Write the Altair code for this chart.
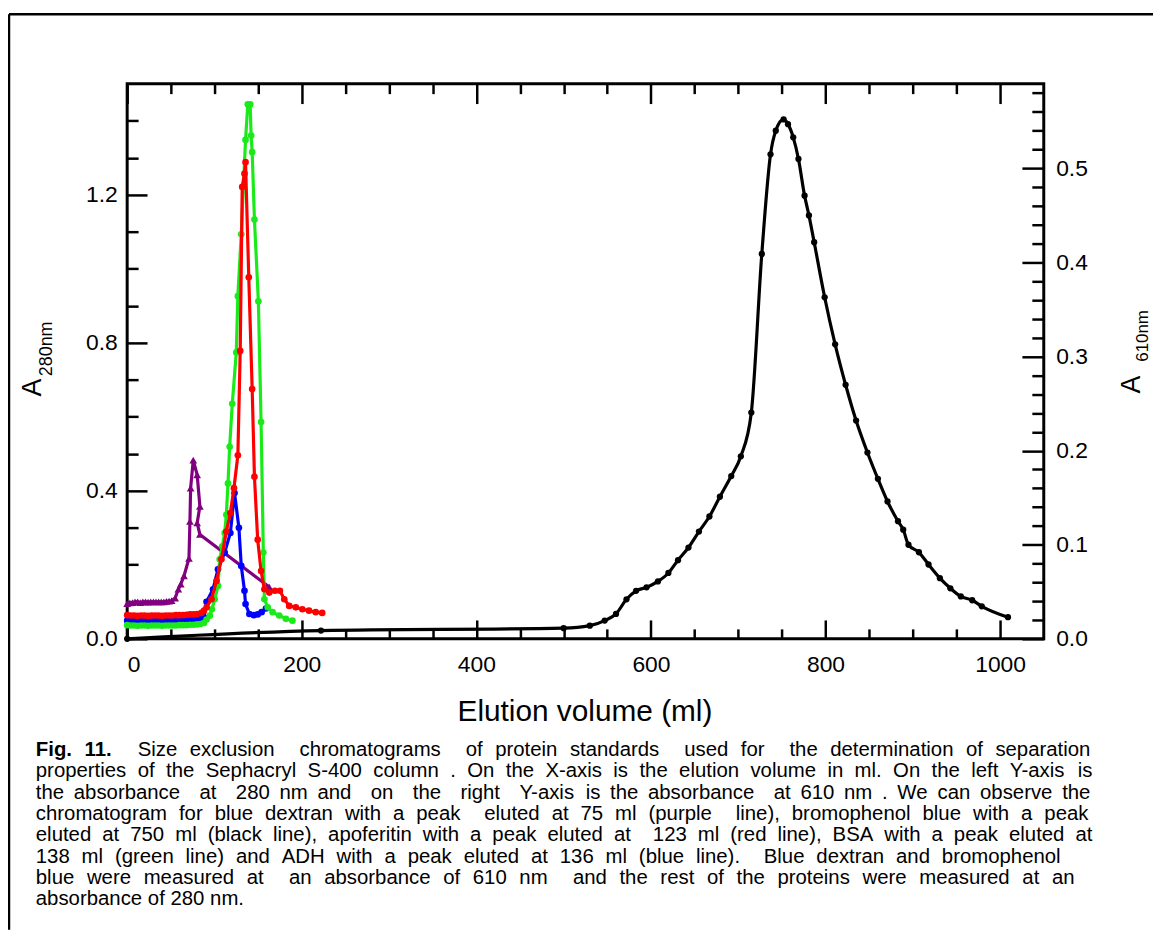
import altair as alt
import pandas as pd

# ---------------- data ----------------
purple_x = [0, 3, 6, 9, 12, 15, 18, 21, 24, 27, 30, 33, 36, 39, 42, 45, 48, 51, 55, 58.6,
            61.4, 65.1, 70.8, 71.9, 72.7, 75.7, 80.2, 83.3, 80.2, 83.3, 162.8]
purple_y = [0.095, 0.097, 0.098, 0.100, 0.100, 0.098, 0.100, 0.100, 0.099, 0.100, 0.100, 0.100,
            0.100, 0.100, 0.100, 0.101, 0.102, 0.103, 0.110, 0.134, 0.148, 0.170, 0.217, 0.317,
            0.407, 0.483, 0.443, 0.358, 0.313, 0.282, 0.140]

blue_x = [0, 4, 8, 12, 16, 20, 24, 28, 32, 36, 40, 44, 48, 52, 56, 60, 64, 68, 72, 76, 80, 84,
          88, 90.9, 98.4, 104, 111.7, 118.2, 123, 128, 130.7, 134.4, 135.6, 140, 145, 149.5, 154, 159]
blue_y = [0.049, 0.048, 0.048, 0.049, 0.048, 0.048, 0.049, 0.048, 0.048, 0.049, 0.048, 0.048,
          0.049, 0.048, 0.049, 0.049, 0.050, 0.050, 0.051, 0.052, 0.053, 0.055,
          0.058, 0.100, 0.134, 0.188, 0.233, 0.286, 0.394, 0.300, 0.197, 0.130, 0.094, 0.067,
          0.064, 0.066, 0.072, 0.082]

green_x = [0, 4, 8, 12, 16, 20, 24, 28, 32, 36, 40, 44, 48, 52, 56, 60, 64, 68, 72, 76, 80, 84,
           88, 91, 94.7, 97, 100.3, 104.1, 106, 109, 111.7, 113.6, 115.5, 117.4, 120.4, 125, 126.8,
           130.7, 135.6, 138.2, 140.9, 142, 143.2, 145.8, 150.3, 153.4, 156, 157.2, 161, 166.6,
           174.2, 181.8, 189.3]
green_y = [0.037, 0.036, 0.036, 0.035, 0.036, 0.036, 0.035, 0.036, 0.036, 0.036, 0.035, 0.036,
           0.036, 0.036, 0.036, 0.037, 0.037, 0.037, 0.038, 0.038, 0.039, 0.040,
           0.043, 0.052, 0.0625, 0.080, 0.107, 0.143, 0.215, 0.250, 0.286, 0.335, 0.420, 0.519,
           0.635, 0.774, 0.926, 1.093, 1.348, 1.444, 1.444, 1.360, 1.315, 1.133, 0.912, 0.586,
           0.233, 0.107, 0.085, 0.072, 0.063, 0.054, 0.049]

red_x = [0, 4, 8, 12, 16, 20, 24, 28, 32, 36, 40, 44, 48, 52, 56, 60, 64, 68, 72, 76, 80,
         85, 88, 91, 96.6, 102.3, 108, 113.6, 118.2, 122.3, 126.8, 129.5, 131.8, 134.4, 135.6,
         139.3, 143.2, 145.8, 149.5, 153.4, 157.2, 162.8, 169.3, 175, 180, 185.6, 193.2, 200.7,
         208.3, 216, 223.4]
red_y = [0.064, 0.063, 0.063, 0.062, 0.063, 0.063, 0.062, 0.063, 0.063, 0.063, 0.062, 0.063,
         0.063, 0.063, 0.064, 0.064, 0.064, 0.065, 0.066, 0.066, 0.067,
         0.070, 0.076, 0.085, 0.107, 0.156, 0.215, 0.290, 0.340, 0.407, 0.496, 0.778, 1.221,
         1.257, 1.288, 0.977, 0.675, 0.438, 0.268, 0.183, 0.134, 0.125, 0.130, 0.130, 0.107,
         0.089, 0.085, 0.080, 0.076, 0.072, 0.070]

black_x = [0, 222, 500, 530, 547, 560, 572, 583, 595, 608, 620, 631, 643, 655, 667, 679, 692,
           703, 715, 727, 737, 743, 752, 757, 763, 769, 776, 781, 787, 799, 811, 823, 835, 848,
           860, 871, 883, 889, 895, 907, 918, 931, 943, 955, 968, 979, 1009]
black_y = [0.0, 0.0088, 0.0113, 0.014, 0.0194, 0.0265, 0.042, 0.051, 0.0547, 0.061, 0.070,
           0.0836, 0.097, 0.114, 0.130, 0.151, 0.173, 0.194, 0.2405, 0.409, 0.515, 0.540, 0.552,
           0.547, 0.533, 0.510, 0.471, 0.450, 0.4215, 0.363, 0.313, 0.270, 0.232, 0.198, 0.170,
           0.146, 0.125, 0.116, 0.100, 0.092, 0.079, 0.0645, 0.0537, 0.045, 0.041, 0.0346, 0.023]

x_major = [0, 200, 400, 600, 800, 1000]
x_minor = [50, 100, 150, 250, 300, 350, 450, 500, 550, 650, 700, 750, 850, 900, 950]
yl_major = [0.0, 0.4, 0.8, 1.2]
yl_minor = [0.1, 0.2, 0.3, 0.5, 0.6, 0.7, 0.9, 1.0, 1.1, 1.3, 1.4]
yr_major = [0.0, 0.1, 0.2, 0.3, 0.4, 0.5]
yr_minor = [0.02, 0.04, 0.06, 0.08, 0.12, 0.14, 0.16, 0.18, 0.22, 0.24, 0.26, 0.28, 0.32,
            0.34, 0.36, 0.38, 0.42, 0.44, 0.46, 0.48, 0.52, 0.54, 0.56, 0.58]

caption = [
    "Fig. 11.  Size exclusion  chromatograms  of protein standards  used for  the determination of separation",
    "properties of the Sephacryl S-400 column . On the X-axis is the elution volume in ml. On the left Y-axis is",
    "the absorbance  at  280 nm and  on  the  right  Y-axis is the absorbance  at 610 nm . We can observe the",
    "chromatogram for blue dextran with a peak  eluted at 75 ml (purple  line), bromophenol blue with a peak",
    "eluted at 750 ml (black line), apoferitin with a peak eluted at  123 ml (red line), BSA with a peak eluted at",
    "138 ml (green line) and ADH with a peak eluted at 136 ml (blue line).  Blue dextran and bromophenol",
    "blue were measured at  an absorbance of 610 nm  and the rest of the proteins were measured at an",
    "absorbance of 280 nm.",
]
caption_bold = ["Fig.", "11."]

# ---------------- layout ----------------
XD = [0, 1050]
YL = [0, 1.5]
YR = [0, 0.59]
W, H = 923, 559
PAD = {"left": 120, "top": 73, "right": 110, "bottom": 293}
OX, OY = 128, 81  # page position of the plot origin
FONT = "Liberation Sans"


def sx(axis=None):
    return alt.X("v:Q", scale=alt.Scale(domain=XD, nice=False, zero=False), axis=axis)


def sy(dom, axis=None):
    return alt.Y("a:Q", scale=alt.Scale(domain=dom, nice=False, zero=False), axis=axis)


common = dict(domain=False, grid=False, tickColor="black", tickWidth=2.5, labelFont=FONT,
              labelFontSize=23, labelColor="black", title=None)

ax_bottom_major = alt.Axis(orient="bottom", values=x_major, tickSize=19, offset=-19,
                           labelPadding=15, format="d", **common)
ax_bottom_minor = alt.Axis(orient="bottom", values=x_minor, tickSize=10, offset=-10,
                           labels=False, **common)
ax_top_major = alt.Axis(orient="top", values=x_major, tickSize=20, offset=-20, labels=False, **common)
ax_top_minor = alt.Axis(orient="top", values=x_minor, tickSize=10, offset=-10, labels=False, **common)
ax_left_major = alt.Axis(orient="left", values=yl_major, tickSize=20, offset=-20,
                         labelPadding=10, format=".1f", **common)
ax_left_minor = alt.Axis(orient="left", values=yl_minor, tickSize=11, offset=-11,
                         labels=False, **common)
ax_right_major = alt.Axis(orient="right", values=yr_major, tickSize=22, offset=-22,
                          labelPadding=12, format=".1f", **common)
ax_right_minor = alt.Axis(orient="right", values=yr_minor, tickSize=12, offset=-12,
                          labels=False, **common)

dummy = pd.DataFrame({"v": [0.0], "a": [0.0]})


def axis_layer(xaxis, yaxis, ydom):
    return alt.Chart(dummy).mark_point(opacity=0).encode(x=sx(xaxis), y=sy(ydom, yaxis))


layers = [
    axis_layer(ax_bottom_major, ax_left_major, YL),
    axis_layer(ax_bottom_minor, ax_left_minor, YL),
    axis_layer(ax_top_major, ax_right_major, YR),
    axis_layer(ax_top_minor, ax_right_minor, YR),
]


def series(xv, yv, color, dom, shape="circle", size=45, interp="linear"):
    d = pd.DataFrame({"v": xv, "a": yv, "i": list(range(len(xv)))})
    line = alt.Chart(d).mark_line(color=color, strokeWidth=3.2, interpolate=interp).encode(
        x=sx(), y=sy(dom), order="i:Q")
    pts = alt.Chart(d).mark_point(shape=shape, filled=True, color=color, size=size,
                                  opacity=1).encode(x=sx(), y=sy(dom))
    return [line, pts]


layers += series(purple_x, purple_y, "#800080", YL, shape="triangle-up", size=60)
layers += series(blue_x, blue_y, "#0000ff", YL)
layers += series(green_x, green_y, "#1aea1a", YL)
layers += series(red_x, red_y, "#ff0000", YL)
layers += series(black_x, black_y, "#000000", YR, size=40, interp="monotone")


def txt(s, x, y, size, angle=0, weight="normal", align="left", baseline="middle"):
    return alt.Chart(pd.DataFrame({"t": [s]})).mark_text(
        font=FONT, fontSize=size, angle=angle, fontWeight=weight, align=align,
        baseline=baseline, color="black").encode(
        x=alt.value(x - OX), y=alt.value(y - OY), text="t:N")


# titles (page coordinates)
layers.append(txt("Elution volume (ml)", 589, 714, 30, align="center"))
layers.append(txt("A", 33, 387, 27, angle=270, align="center"))
layers.append(txt("280nm", 47, 348, 18, angle=270, align="center"))
layers.append(txt("A", 1140, 384, 27, angle=270, align="center"))
layers.append(txt("610nm", 1151, 335, 17, angle=270, align="center"))

# ---------------- caption: justified text ----------------
REG = {" ": 278, ".": 278, ",": 278, "(": 333, ")": 333, "-": 333, ":": 278,
       "0": 556, "1": 556, "2": 556, "3": 556, "4": 556, "5": 556, "6": 556, "7": 556,
       "8": 556, "9": 556,
       "A": 667, "B": 667, "C": 722, "D": 722, "E": 667, "F": 611, "G": 778, "H": 722,
       "I": 278, "J": 500, "K": 667, "L": 556, "M": 833, "N": 722, "O": 778, "P": 667,
       "Q": 778, "R": 722, "S": 667, "T": 611, "U": 722, "V": 667, "W": 944, "X": 667,
       "Y": 667, "Z": 611,
       "a": 556, "b": 556, "c": 500, "d": 556, "e": 556, "f": 278, "g": 556, "h": 556,
       "i": 222, "j": 222, "k": 500, "l": 222, "m": 833, "n": 556, "o": 556, "p": 556,
       "q": 556, "r": 333, "s": 500, "t": 278, "u": 556, "v": 500, "w": 722, "x": 500,
       "y": 500, "z": 500}
BOLD = {"F": 611, "i": 278, "g": 611, ".": 278, "1": 556}

CAP_FS = 20.5
CAP_X0 = 36
CAP_Y0 = 752
CAP_DY = 21.5
cap_ends = [1098, 1100, 1098, 1096, 1100, 1068, 1082, None]


def wwidth(word, bold):
    table = BOLD if bold else REG
    return sum(table.get(c, 556) for c in word) / 1000.0 * CAP_FS


reg_rows = []
bold_rows = []
for k, line in enumerate(caption):
    toks = line.split(" ")
    bolds = [k == 0 and t in caption_bold and j < 2 for j, t in enumerate(toks)]
    widths = [wwidth(t, b) for t, b in zip(toks, bolds)]
    space = REG[" "] / 1000.0 * CAP_FS
    natural = sum(widths) + space * (len(toks) - 1)
    gap = space
    if cap_ends[k] is not None and len(toks) > 1:
        gap = space + (cap_ends[k] - CAP_X0 - natural) / (len(toks) - 1)
    xpos = CAP_X0
    for t, b, w in zip(toks, bolds, widths):
        if t:
            row = {"w": t, "px": xpos - OX, "py": CAP_Y0 + k * CAP_DY - OY}
            (bold_rows if b else reg_rows).append(row)
        xpos += w + gap

for rows, weight in ((reg_rows, "normal"), (bold_rows, "bold")):
    layers.append(alt.Chart(pd.DataFrame(rows)).mark_text(
        font=FONT, fontSize=CAP_FS, fontWeight=weight, align="left", baseline="middle",
        color="black").encode(
        x=alt.X("px:Q", scale=None, axis=None), y=alt.Y("py:Q", scale=None, axis=None),
        text="w:N"))

# outer figure frame (left and top edges)
frame = pd.DataFrame({"f": [0]})
layers.append(alt.Chart(frame).mark_rule(color="black", strokeWidth=2.5).encode(
    x=alt.value(9 - OX), x2=alt.value(1161 - OX), y=alt.value(11 - OY)))
layers.append(alt.Chart(frame).mark_rule(color="black", strokeWidth=2.5).encode(
    x=alt.value(9 - OX), y=alt.value(11 - OY), y2=alt.value(H + PAD["bottom"])))

chart = alt.layer(*layers).resolve_scale(x="independent", y="independent").properties(
    width=W, height=H, padding=PAD, autosize=alt.AutoSizeParams(type="none"),
    background="white",
).configure_view(stroke="black", strokeWidth=3)

chart.save("out.html", embed_options={"renderer": "svg", "actions": False})
